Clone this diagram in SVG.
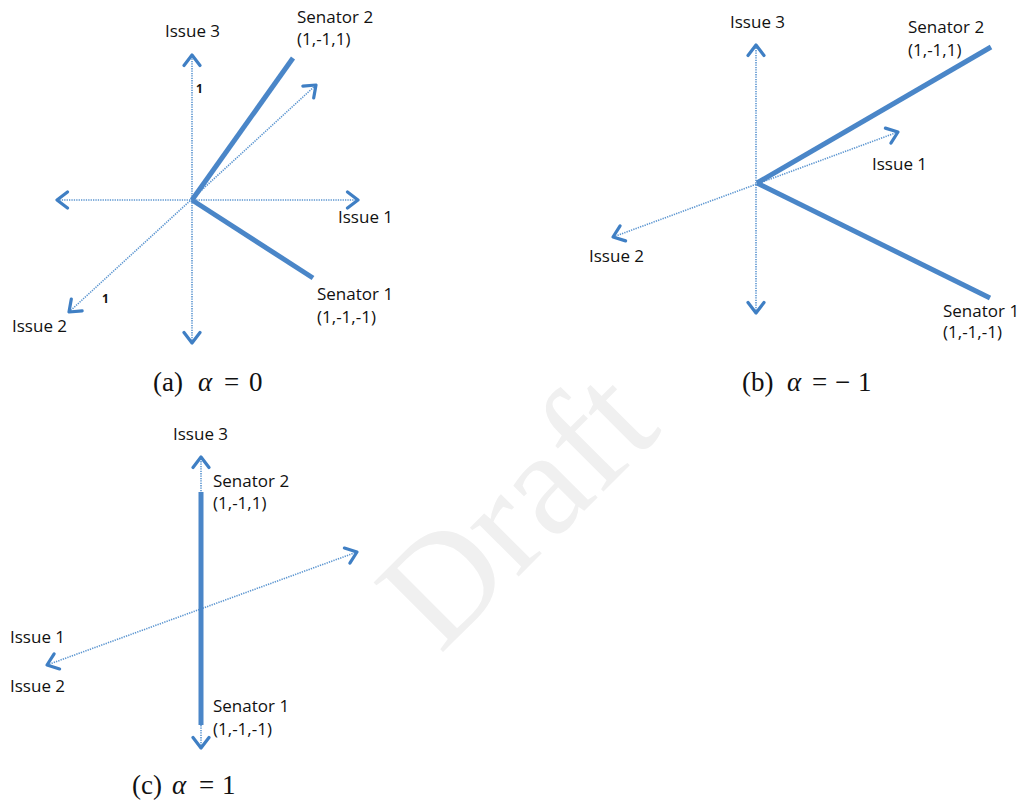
<svg xmlns="http://www.w3.org/2000/svg" width="1021" height="805" viewBox="0 0 1021 805">
<style>
.lbl{font-family:"Open Sans","Liberation Sans",sans-serif;font-size:17px;fill:#111}
.num{font-family:"Open Sans","Liberation Sans",sans-serif;font-size:12px;font-weight:bold;fill:#111}
.cap{font-family:"Liberation Serif","DejaVu Serif",serif;font-size:27px;fill:#111}
.capi{font-style:italic}
.axis{fill:none;stroke:#5b95d0;stroke-width:1.6;stroke-dasharray:1.3 1.1;marker-start:url(#ah);marker-end:url(#ah)}
.sen{fill:none;stroke:#4a86c8;stroke-width:5}
.wm{font-family:"Liberation Serif","DejaVu Serif",serif;font-size:150px;fill:#f0f0f0}
</style>
<defs>
<marker id="ah" viewBox="-13 -10 15 20" refX="0" refY="0" markerWidth="15" markerHeight="20" markerUnits="userSpaceOnUse" orient="auto-start-reverse">
<path d="M-10.5 -8 L0 0 L-10.5 8" fill="none" stroke="#3f7fc4" stroke-width="3.2" stroke-linecap="round" stroke-linejoin="round"/>
</marker>
</defs>
<rect width="1021" height="805" fill="#fff"/>
<text class="wm" transform="translate(440,655) rotate(-45)">Draft</text>

<g id="connectors">
<line class="axis" x1="192" y1="343" x2="192" y2="55"/>
<line class="axis" x1="57" y1="200" x2="358" y2="200"/>
<line class="axis" x1="69" y1="312" x2="316" y2="85"/>
<line class="sen" x1="192" y1="200" x2="293" y2="58"/>
<line class="sen" x1="192" y1="200" x2="313" y2="278"/>
<line class="axis" x1="756" y1="313" x2="756" y2="45"/>
<line class="axis" x1="613" y1="237" x2="898" y2="132"/>
<line class="sen" x1="757" y1="183" x2="991" y2="47"/>
<line class="sen" x1="757" y1="183" x2="990" y2="298"/>
<line class="axis" x1="201" y1="748" x2="201" y2="457"/>
<line class="axis" x1="47" y1="665" x2="357" y2="552"/>
<line class="sen" x1="201" y1="492" x2="201" y2="725"/>
</g>

<g id="panel-a">
<text class="lbl" x="165" y="37">Issue 3</text>
<text class="lbl" x="297" y="23">Senator 2</text>
<text class="lbl" x="297" y="45">(1,-1,1)</text>
<text class="num" x="196" y="93">1</text>
<text class="lbl" x="338" y="223">Issue 1</text>
<text class="lbl" x="317" y="300">Senator 1</text>
<text class="lbl" x="317" y="323">(1,-1,-1)</text>
<text class="num" x="102" y="303">1</text>
<text class="lbl" x="12" y="332">Issue 2</text>
<text class="cap" y="391"><tspan x="153">(a)</tspan><tspan class="capi" x="198">α</tspan><tspan x="224">=</tspan><tspan x="249">0</tspan></text>
</g>

<g id="panel-b">
<text class="lbl" x="730" y="28">Issue 3</text>
<text class="lbl" x="908" y="33">Senator 2</text>
<text class="lbl" x="908" y="56">(1,-1,1)</text>
<text class="lbl" x="872" y="170">Issue 1</text>
<text class="lbl" x="589" y="262">Issue 2</text>
<text class="lbl" x="943" y="317">Senator 1</text>
<text class="lbl" x="943" y="338">(1,-1,-1)</text>
<text class="cap" y="391"><tspan x="742">(b)</tspan><tspan class="capi" x="787">α</tspan><tspan x="812">=</tspan><tspan x="835">−</tspan><tspan x="858">1</tspan></text>
</g>

<g id="panel-c">
<text class="lbl" x="173" y="440">Issue 3</text>
<text class="lbl" x="213" y="487">Senator 2</text>
<text class="lbl" x="213" y="509">(1,-1,1)</text>
<text class="lbl" x="10" y="643">Issue 1</text>
<text class="lbl" x="10" y="692">Issue 2</text>
<text class="lbl" x="213" y="712">Senator 1</text>
<text class="lbl" x="213" y="735">(1,-1,-1)</text>
<text class="cap" y="794"><tspan x="132">(c)</tspan><tspan class="capi" x="172">α</tspan><tspan x="199">=</tspan><tspan x="222">1</tspan></text>
</g>
</svg>
